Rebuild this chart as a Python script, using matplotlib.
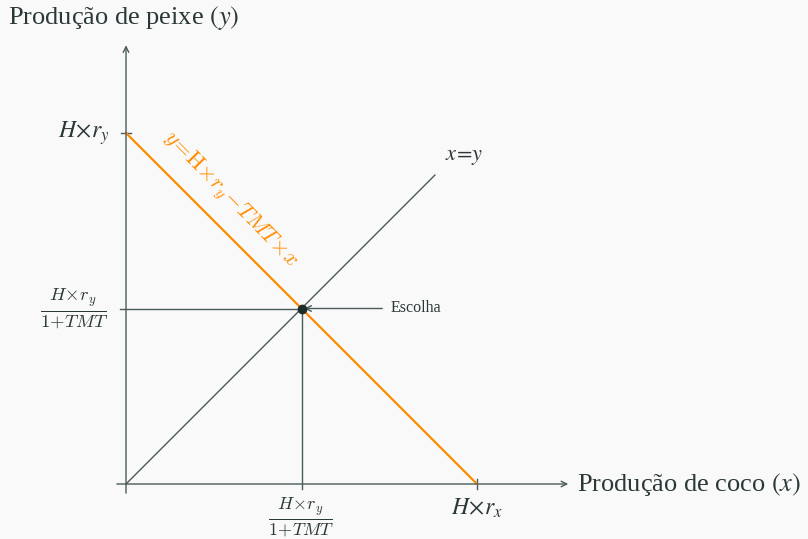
import matplotlib
matplotlib.use("Agg")
import matplotlib.pyplot as plt

# model values (units of H*r_x)
h_ry = 1.0          # H x r_y  (vertical intercept)
h_rx = 1.0          # H x r_x  (horizontal intercept)
escolha = 0.5       # H x r_y / (1 + TMT)
diag_end = 0.88     # where the x=y line stops
axis_end_x = 1.26
axis_end_y = 1.25

ink = '#4b5a5a'
txt = '#2b3838'
orange = '#ff8c00'
bg = '#f9f9f9'

plt.rcParams['font.family'] = ['Liberation Serif', 'DejaVu Serif']
plt.rcParams['mathtext.fontset'] = 'stix'

fig = plt.figure(figsize=(8.08, 5.39), dpi=100, facecolor=bg)
ax = fig.add_axes([0, 0, 1, 1])
ax.set_facecolor(bg)
ax.axis('off')

# pixel mapping: origin at (126, 484), 351 px per unit
s = 351.0
ax.set_xlim(-126 / s, (808 - 126) / s)
ax.set_ylim(-(539 - 484) / s, 484 / s)

# axes with arrows
ax.annotate('', xy=(axis_end_x, 0), xytext=(-0.026, 0),
            arrowprops=dict(arrowstyle='->', color=ink, lw=1.0, shrinkA=0, shrinkB=0))
ax.annotate('', xy=(0, axis_end_y), xytext=(0, -0.026),
            arrowprops=dict(arrowstyle='->', color=ink, lw=1.0, shrinkA=0, shrinkB=0))

# ticks
ax.plot([-0.015, 0.015], [h_ry, h_ry], color=ink, lw=1.0)
ax.plot([h_rx, h_rx], [-0.015, 0.015], color=ink, lw=1.0)

# x = y line
ax.plot([0, diag_end], [0, diag_end], color=ink, lw=1.0)

# guide lines at the choice
ax.plot([-0.018, escolha], [escolha, escolha], color=ink, lw=1.0)
ax.plot([escolha, escolha], [-0.015, escolha], color=ink, lw=1.0)

# budget line
ax.plot([0, h_rx], [h_ry, 0], color=orange, lw=1.6)

# choice point + arrow
ax.annotate('', xy=(escolha + 0.008, escolha), xytext=(0.73, escolha),
            arrowprops=dict(arrowstyle='->', color=ink, lw=1.0, shrinkA=0, shrinkB=0))
ax.plot([escolha], [escolha], 'o', color='#1f2c2c', ms=6, zorder=5)
ax.text(0.755, escolha, 'Escolha', fontsize=11.5, color=txt, va='center', ha='left')

# labels
ax.text(-0.336, 1.327, r'Produção de peixe $(y)$', fontsize=19, color=txt,
        va='center', ha='left')
ax.text(1.285, 0, r'Produção de coco $(x)$', fontsize=19, color=txt,
        va='center', ha='left')
ax.text(-0.045, h_ry, r'$H\!\times\! r_y$', fontsize=17, color=txt, va='center', ha='right')
frac = r'$\frac{H\!\times\! r_y}{1\!+\!TMT}$'
ax.text(-0.05, escolha, frac, fontsize=19, color=txt,
        va='center', ha='right', math_fontfamily='cm')
ax.text(escolha, -0.032, frac, fontsize=18.5, color=txt,
        va='top', ha='center', math_fontfamily='cm')
ax.text(h_rx, -0.035, r'$H\!\times\! r_x$', fontsize=17, color=txt, va='top', ha='center')
ax.text(0.91, 0.93, r'$x\!=\!y$', fontsize=16, color=txt, va='center', ha='left')
ax.text(0.297, 0.81, r'$y\!=\!\mathrm{H}\!\times\! r_y\!-\!TMT\!\times\! x$', fontsize=16,
        color=orange, rotation=-45.5, rotation_mode='anchor', va='center', ha='center',
        math_fontfamily='cm')

fig.savefig('out.png', dpi=100, facecolor=bg)
